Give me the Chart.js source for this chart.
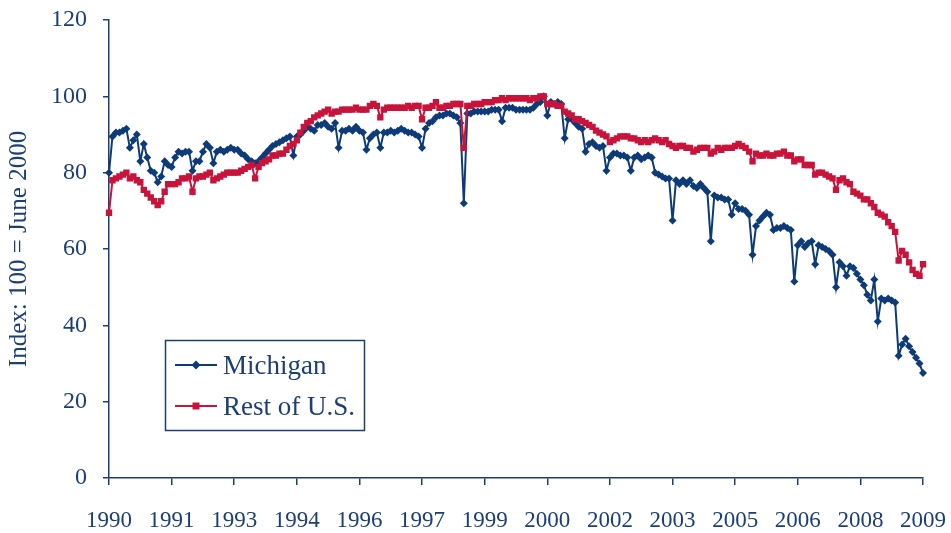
<!DOCTYPE html>
<html>
<head>
<meta charset="utf-8">
<script src="https://cdn.jsdelivr.net/npm/chart.js@4.4.0/dist/chart.umd.min.js"></script>
<style>
  html, body { margin: 0; padding: 0; background: #fff; }
  #wrap { width: 951px; height: 533px; }
</style>
</head>
<body>
<div id="wrap"><canvas id="chart" width="951" height="533"></canvas></div>
<script>
// Monthly index, 100 = June 2000 (Jan 1990 .. Jul 2009)
const michigan = [
  80, 89.5, 90.5, 90.5, 91, 91.5, 86.5, 88.5, 90, 83, 87.5, 84, 80.5, 80, 77.5, 79, 83, 82, 81.5, 84, 85.5, 85, 85.5, 85.5,
  80.5, 83, 83, 85.5, 87.5, 86.5, 82.5, 85.5, 86, 85.5, 86, 86.5, 86, 86, 85, 84.5, 83.5, 83, 82.5, 83, 84, 85, 86, 87,
  87.5, 88, 88.5, 89, 89.5, 84.5, 89.5, 90, 91, 92, 91.5, 91, 92.5, 92.5, 93, 92, 91.5, 93, 86.5, 91, 91, 91.5, 91, 92,
  91, 90.5, 86, 89, 90, 90.5, 86.5, 90.5, 90.5, 91, 90.5, 91, 91.5, 91, 90.5, 90.5, 90, 89.5, 86.5, 91.5, 93, 93.5, 94.5, 95,
  95, 95.5, 95.5, 95, 94.5, 93, 72, 95.5, 95.5, 96, 96, 96, 96, 96, 96.5, 96.5, 96.5, 93.5, 97, 97, 97, 96.5, 96.5, 96.5,
  96.5, 96.5, 97, 98, 98.5, 100, 95, 98.5, 98, 98.5, 98, 89, 94, 94, 93, 92, 91.5, 85.5, 87.5, 88, 87, 86.5, 87, 80.5, 84, 85,
  85, 84.5, 84.5, 84, 80.5, 84, 84.5, 83.5, 84, 84.5, 84, 80, 79.5, 79, 78.5, 78.5, 67.5, 78, 77, 78, 77, 78, 76.5, 76,
  77, 76, 75, 62, 74, 73.5, 73.5, 73, 73, 69, 72, 70.5, 70.5, 70, 69, 58.5, 66, 67.5, 68.5, 69.5, 69, 65, 65.5, 65.5,
  66, 65.5, 65, 51.5, 61, 62, 60.5, 61.5, 62, 56, 61, 60.5, 60, 59.5, 58.5, 50, 56.5, 55.5, 53, 55.5, 55, 53.5, 52, 50.5, 48,
  46.5, 52, 41, 47, 46.5, 47, 46.5, 46, 32, 35, 36.5, 34.5, 33, 31.5, 30, 27.5
];
const restOfUS = [
  69.5, 78, 78.5, 79, 79.5, 80, 78.5, 79, 78, 77.5, 75.5, 74.5, 73.5, 72.5, 71.5, 72.5, 75, 77, 77, 77, 77.5, 78.5, 78.5, 79,
  75, 78.5, 79, 79, 79.5, 80, 78, 78.5, 79, 79.5, 80, 80, 80, 80, 80.5, 81, 81.5, 82, 78.5, 81.5, 82.5, 83, 83.5, 84.5,
  84.5, 85, 85, 86, 87, 87.5, 88.5, 90.5, 92, 93, 93.5, 94.5, 95, 95.5, 96, 96.5, 95.5, 96, 96, 96.5, 96.5, 96.5, 96.5, 97,
  96.5, 96.5, 96.5, 97.5, 98, 97.5, 94.5, 96.5, 97, 97, 97, 97, 97, 97, 97.5, 97, 97.5, 97.5, 94, 97, 97, 97.5, 98.5, 97,
  97, 97.5, 97.5, 98, 98, 98, 86.5, 97.5, 97.5, 98, 98, 98, 98.5, 98.5, 98.5, 99, 99, 99.5, 99, 99.5, 99.5, 99.5, 99.5, 99.5,
  99.5, 99, 99.5, 99.5, 100, 100, 98, 98, 98, 97.5, 97.5, 96, 95.5, 95, 94, 94, 93.5, 93, 92.5, 92, 91, 90.5, 90, 89.5, 88, 88.5,
  89, 89.5, 89.5, 89.5, 89, 89, 88.5, 88, 88.5, 88, 88.5, 89, 88.5, 88, 88.5, 87.5, 87, 86.5, 87, 87, 86.5, 86.5, 85.5, 86,
  86.5, 86.5, 86.5, 85, 85.5, 86.5, 86, 86.5, 86.5, 86.5, 87, 87.5, 87, 86.5, 85.5, 83, 85, 84.5, 84.5, 85, 84.5, 84.5, 85, 85,
  85.5, 84.5, 84.5, 83, 83.5, 83.5, 82, 82, 82, 79.5, 80, 80, 79.5, 79, 78.5, 75.5, 78, 78.5, 77.5, 77, 75, 74.5, 74, 73, 73,
  72, 71, 69.5, 69, 68.5, 67, 66, 64.5, 57, 59.5, 58.5, 56.5, 54.5, 53.5, 53, 56
];
// one label every 18 months
const tickLabels = ['1990', '1991', '1993', '1994', '1996', '1997', '1999', '2000', '2002', '2003', '2005', '2006', '2008', '2009'];
const yTicks = [0, 20, 40, 60, 80, 100, 120];

const months = [];
for (let i = 0; i < michigan.length; i++) {
    months.push((1990 + Math.floor(i / 12)) + '-' + String(i % 12 + 1).padStart(2, '0'));
}

const navy = '#0d3b78';
const red = '#c8133b';
const ink = '#1b3f73';
const serif = "'Liberation Serif', 'Times New Roman', serif";

// boxed legend inside the plot, like the original
const boxLegend = {
    id: 'boxLegend',
    afterDraw(chart) {
        const ctx = chart.ctx;
        ctx.save();
        ctx.fillStyle = '#fff';
        ctx.fillRect(165, 340, 199, 90);
        ctx.strokeStyle = ink;
        ctx.lineWidth = 1.5;
        ctx.strokeRect(165.5, 340.5, 199, 90);
        const rows = [
            { label: 'Michigan', color: navy, y: 365, style: 'diamond' },
            { label: 'Rest of U.S.', color: red, y: 406, style: 'square' },
        ];
        ctx.font = '27px ' + serif;
        ctx.textBaseline = 'alphabetic';
        rows.forEach(r => {
            ctx.strokeStyle = r.color;
            ctx.lineWidth = 2;
            ctx.beginPath();
            ctx.moveTo(175, r.y);
            ctx.lineTo(217, r.y);
            ctx.stroke();
            ctx.fillStyle = r.color;
            ctx.beginPath();
            if (r.style === 'diamond') {
                ctx.moveTo(196, r.y - 4.5);
                ctx.lineTo(200.5, r.y);
                ctx.lineTo(196, r.y + 4.5);
                ctx.lineTo(191.5, r.y);
                ctx.closePath();
            } else {
                ctx.rect(192.5, r.y - 3.5, 7, 7);
            }
            ctx.fill();
            ctx.fillStyle = ink;
            ctx.fillText(r.label, 223, r.y + 9);
        });
        ctx.restore();
    }
};

const ctx = document.getElementById('chart').getContext('2d');
new Chart(ctx, {
    type: 'line',
    data: {
        labels: months,
        datasets: [{
            label: 'Michigan',
            data: michigan,
            borderColor: navy,
            backgroundColor: navy,
            borderWidth: 2,
            pointStyle: 'rectRot',
            pointRadius: 4,
            pointBorderWidth: 0,
            tension: 0,
            order: 1,
        }, {
            label: 'Rest of U.S.',
            data: restOfUS,
            borderColor: red,
            backgroundColor: red,
            borderWidth: 2,
            pointStyle: 'rect',
            pointRadius: 4.5,
            pointBorderWidth: 0,
            tension: 0,
            order: 0,
        }],
    },
    options: {
        responsive: false,
        animation: false,
        devicePixelRatio: 1,
        layout: { padding: { top: 20, right: 28, left: 0, bottom: 0 } },
        plugins: {
            legend: { display: false },
            tooltip: { enabled: false },
        },
        scales: {
            x: {
                type: 'category',
                offset: false,
                afterFit: s => { s.height = 55; s.paddingLeft = 0; s.paddingRight = 0; },
                grid: { drawOnChartArea: false, drawTicks: true, tickLength: 7, color: ink, lineWidth: 1.5 },
                border: { display: true, color: ink, width: 1.5 },
                ticks: {
                    autoSkip: false,
                    maxRotation: 0,
                    padding: 22,
                    color: ink,
                    font: { family: serif, size: 23 },
                    callback: (v, i) => (i % 18 === 0 ? tickLabels[i / 18] : null),
                },
            },
            y: {
                min: yTicks[0],
                max: yTicks[yTicks.length - 1],
                afterFit: s => { s.width = 109; s.paddingTop = 0; s.paddingBottom = 0; },
                afterBuildTicks: s => { s.ticks = yTicks.map(v => ({ value: v })); },
                grid: { drawOnChartArea: false, drawTicks: true, tickLength: 6, color: ink, lineWidth: 1.5 },
                border: { display: true, color: ink, width: 1.5 },
                ticks: {
                    padding: 16,
                    color: ink,
                    font: { family: serif, size: 24 },
                },
                title: {
                    display: true,
                    text: 'Index: 100 = June 2000',
                    color: ink,
                    font: { family: serif, size: 25 },
                    padding: { top: 4, bottom: 0 },
                },
            },
        },
    },
    plugins: [boxLegend],
});
</script>
</body>
</html>
